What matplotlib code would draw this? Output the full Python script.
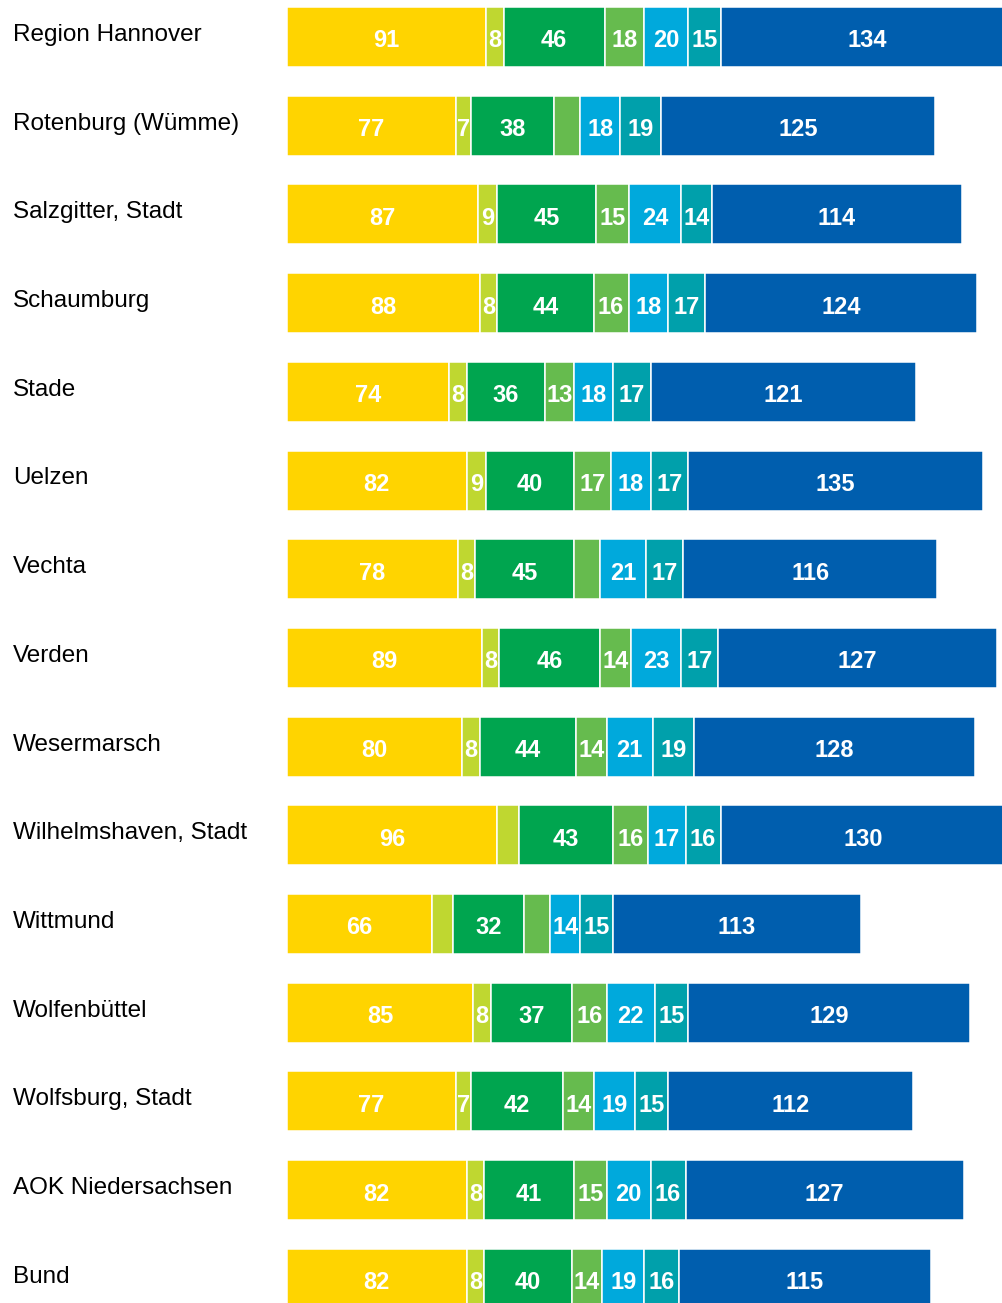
import matplotlib
matplotlib.use("Agg")
import matplotlib.pyplot as plt

plt.rcParams['font.family'] = ['Liberation Sans', 'DejaVu Sans']

regions = ["Region Hannover", "Rotenburg (Wümme)", "Salzgitter, Stadt", "Schaumburg",
           "Stade", "Uelzen", "Vechta", "Verden", "Wesermarsch", "Wilhelmshaven, Stadt",
           "Wittmund", "Wolfenbüttel", "Wolfsburg, Stadt", "AOK Niedersachsen", "Bund"]

s1 = [91, 77, 87, 88, 74, 82, 78, 89, 80, 96, 66, 85, 77, 82, 82]
s2 = [8, 7, 9, 8, 8, 9, 8, 8, 8, 10, 10, 8, 7, 8, 8]
s3 = [46, 38, 45, 44, 36, 40, 45, 46, 44, 43, 32, 37, 42, 41, 40]
s4 = [18, 12, 15, 16, 13, 17, 12, 14, 14, 16, 12, 16, 14, 15, 14]
s5 = [20, 18, 24, 18, 18, 18, 21, 23, 21, 17, 14, 22, 19, 20, 19]
s6 = [15, 19, 14, 17, 17, 17, 17, 17, 19, 16, 15, 15, 15, 16, 16]
s7 = [134, 125, 114, 124, 121, 135, 116, 127, 128, 130, 113, 129, 112, 127, 115]

# segments drawn without a number in the original (row, series)
unlabeled = {(1, 3), (6, 3), (9, 1), (10, 1), (10, 3)}

series = [s1, s2, s3, s4, s5, s6, s7]
colors = ["#FFD400", "#BFD730", "#00A54F", "#66BB4E", "#00A9DC", "#00A0AB", "#005EAE"]

fig = plt.figure(figsize=(10.03, 13.03), dpi=100)
ax = fig.add_axes([287 / 1003, 0, 1 - 287 / 1003, 1])

row_h = 88.7
ax.set_xlim(0, 716 / 2.19)
ax.set_ylim((1303 - 37) / row_h, -37 / row_h)

ypos = list(range(len(regions)))
left = [0] * len(regions)
for k, (vals, col) in enumerate(zip(series, colors)):
    bars = ax.barh(ypos, vals, left=left, height=60 / row_h, color=col,
                   edgecolor="white", linewidth=1.1)
    for i, (v, l) in enumerate(zip(vals, left)):
        if (i, k) in unlabeled:
            continue
        ax.text(l + v / 2, i + 0.045, str(v), ha="center", va="center",
                color="white", fontsize=17, fontweight="bold", clip_on=True)
    left = [a + b for a, b in zip(left, vals)]

for i, name in enumerate(regions):
    ax.text(13 / 1003, 1 - (37 + 4 + i * row_h) / 1303, name, transform=fig.transFigure,
            ha="left", va="baseline", fontsize=17.5, color="black")

ax.axis("off")

fig.savefig("out.png", dpi=100)
plt.close(fig)
